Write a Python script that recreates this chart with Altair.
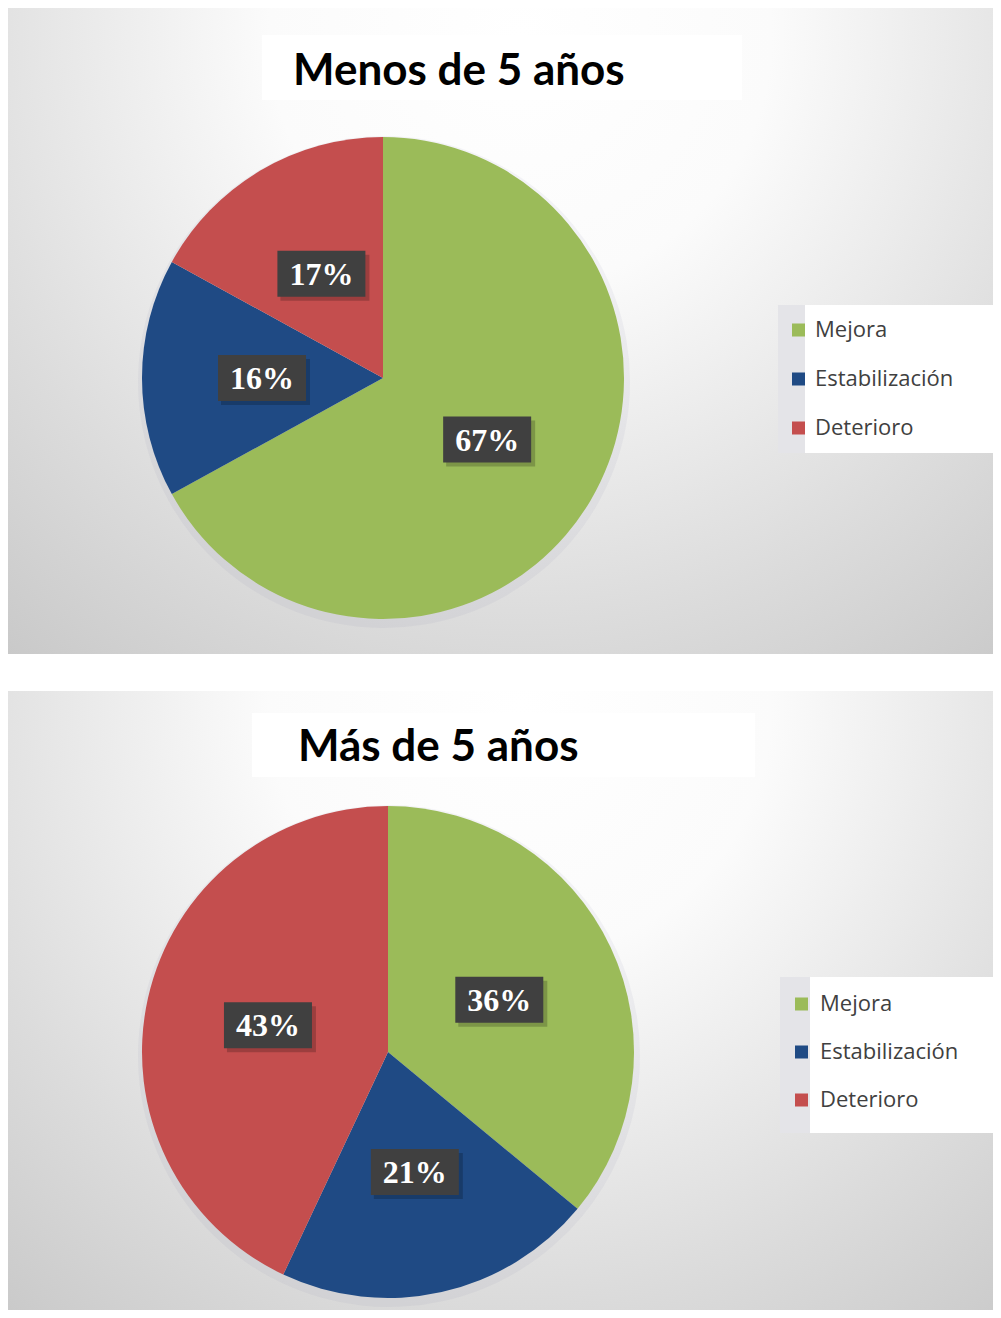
import altair as alt
import pandas as pd

categories = ["Mejora", "Estabilización", "Deterioro"]
colors = ["#9BBB59", "#1F4A84", "#C44E4E"]
values_menos = [67, 16, 17]
values_mas = [36, 21, 43]
titles = ["Menos de 5 años", "Más de 5 años"]

W = 985

layouts = [
    dict(H=646, cx=375, cy=370, R=241, rl=121,
         tbox=(254, 734, 27, 92), tx=285, ty=64,
         lbox=(797, 985, 297, 445), strip=(770, 797), sqx=784, txx=807, ly0=322, ldy=49),
    dict(H=619, cx=380, cy=361, R=246, rl=123,
         tbox=(244, 747, 22, 86), tx=290, ty=57,
         lbox=(802, 985, 286, 442), strip=(772, 802), sqx=787, txx=812, ly0=313, ldy=48),
]

bg_grad = {
    "gradient": "radial",
    "x1": 0.52, "y1": 0.2, "r1": 0,
    "x2": 0.52, "y2": 0.2, "r2": 0.85,
    "stops": [
        {"offset": 0.0, "color": "#ffffff"},
        {"offset": 0.3, "color": "#fbfbfb"},
        {"offset": 0.7, "color": "#dcdcdc"},
        {"offset": 1.0, "color": "#c6c6c6"},
    ],
}


def panel(values, title, L):
    df = pd.DataFrame({"category": categories, "value": values, "order": [0, 1, 2]})
    one = pd.DataFrame({"k": [0]})
    color = alt.Color("category:N", scale=alt.Scale(domain=categories, range=colors), legend=None)

    bg = alt.Chart(one).mark_rect(fill=bg_grad, stroke=None).encode(
        x=alt.value(0), x2=alt.value(W), y=alt.value(0), y2=alt.value(L["H"]))

    x0, x1, y0, y1 = L["tbox"]
    tbox = alt.Chart(one).mark_rect(fill="white", stroke=None).encode(
        x=alt.value(x0), x2=alt.value(x1), y=alt.value(y0), y2=alt.value(y1))
    ttext = alt.Chart(pd.DataFrame({"t": [title]})).mark_text(
        font="Lato", fontWeight="bold", fontSize=44, align="left", baseline="middle", color="#000000"
    ).encode(x=alt.value(L["tx"]), y=alt.value(L["ty"]), text="t:N")

    shadow = alt.Chart(df).mark_arc(outerRadius=L["R"] + 5, opacity=0.08, color="#8080a0").encode(
        theta=alt.Theta("value:Q", stack=True), order=alt.Order("order:Q"),
        x=alt.value(L["cx"] + 1), y=alt.value(L["cy"] + 4))

    pie = alt.Chart(df).mark_arc(outerRadius=L["R"], stroke=None).encode(
        theta=alt.Theta("value:Q", stack=True), color=color, order=alt.Order("order:Q"),
        x=alt.value(L["cx"]), y=alt.value(L["cy"]))

    lab = alt.Chart(df).transform_window(
        cum="sum(value)", sort=[alt.SortField("order")], frame=[None, 0]
    ).transform_joinaggregate(total="sum(value)").transform_calculate(
        ang="2*PI*(datum.cum - datum.value/2)/datum.total",
        lx=f"{L['cx']} + {L['rl']}*sin(datum.ang)",
        ly=f"{L['cy']} - {L['rl']}*cos(datum.ang)",
        bx1="datum.lx - 44", bx2="datum.lx + 44",
        by1="datum.ly - 23", by2="datum.ly + 23",
        sx1="datum.lx - 41", sx2="datum.lx + 48",
        sy1="datum.ly - 19", sy2="datum.ly + 27",
        label="datum.value + '%'",
    )
    bshadow = lab.mark_rect(fill="#000000", opacity=0.2).encode(
        x=alt.X("sx1:Q", scale=None, axis=None), x2="sx2:Q",
        y=alt.Y("sy1:Q", scale=None, axis=None), y2="sy2:Q")
    box = lab.mark_rect(fill="#404040").encode(
        x=alt.X("bx1:Q", scale=None, axis=None), x2="bx2:Q",
        y=alt.Y("by1:Q", scale=None, axis=None), y2="by2:Q")
    ltxt = lab.mark_text(font="Liberation Serif", fontWeight="bold", fontSize=32,
                         color="white", align="center", baseline="middle", dy=1).encode(
        x=alt.X("lx:Q", scale=None, axis=None), y=alt.Y("ly:Q", scale=None, axis=None), text="label:N")

    lx0, lx1, ly0, ly1 = L["lbox"]
    s0, s1 = L["strip"]
    strip = alt.Chart(one).mark_rect(fill="#e4e4e8", stroke=None).encode(
        x=alt.value(s0), x2=alt.value(s1), y=alt.value(ly0), y2=alt.value(ly1))
    lbox = alt.Chart(one).mark_rect(fill="white", stroke=None).encode(
        x=alt.value(lx0), x2=alt.value(lx1), y=alt.value(ly0), y2=alt.value(ly1))
    leg = alt.Chart(df).transform_calculate(
        yy=f"{L['ly0']} + datum.order*{L['ldy']}",
        sy1="datum.yy - 6.5", sy2="datum.yy + 6.5")
    sq = leg.mark_rect(stroke=None).encode(
        x=alt.value(L["sqx"]), x2=alt.value(L["sqx"] + 13),
        y=alt.Y("sy1:Q", scale=None, axis=None), y2="sy2:Q", color=color)
    lt = leg.mark_text(font="Open Sans", fontSize=22, color="#404040", align="left",
                       baseline="middle").encode(
        x=alt.value(L["txx"]), y=alt.Y("yy:Q", scale=None, axis=None), text="category:N")

    return alt.layer(bg, tbox, ttext, shadow, pie, bshadow, box, ltxt, strip, lbox, sq, lt).properties(
        width=W, height=L["H"])


chart = alt.vconcat(
    panel(values_menos, titles[0], layouts[0]),
    panel(values_mas, titles[1], layouts[1]),
    spacing=37,
).resolve_scale(color="independent", theta="independent").configure(
    padding=0, background="white"
).configure_view(stroke=None)

chart.save("out.html", embed_options={"renderer": "svg", "actions": False})
